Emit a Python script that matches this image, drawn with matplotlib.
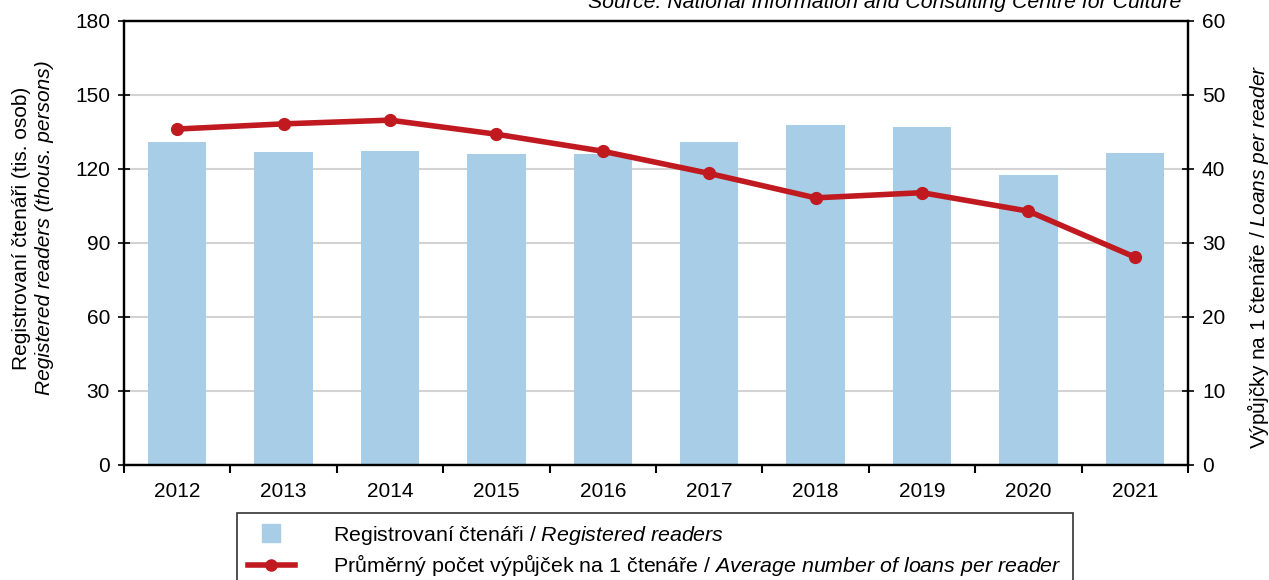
import matplotlib
matplotlib.use("Agg")
import matplotlib.pyplot as plt
from matplotlib.lines import Line2D

plt.rcParams['font.family'] = ['Liberation Sans', 'DejaVu Sans']
plt.rcParams['mathtext.fontset'] = 'custom'
plt.rcParams['mathtext.it'] = 'Liberation Sans:italic'
plt.rcParams['mathtext.rm'] = 'Liberation Sans'

years = ['2012', '2013', '2014', '2015', '2016', '2017', '2018', '2019', '2020', '2021']
readers = [131.0, 126.9, 127.3, 126.2, 126.1, 130.9, 137.8, 137.2, 117.7, 126.5]
loans_per_reader = [45.4, 46.1, 46.6, 44.7, 42.4, 39.4, 36.1, 36.8, 34.3, 28.1]

bar_color = '#A7CDE7'
line_color = '#C0191F'
fs = 15

fig = plt.figure(figsize=(12.69, 5.80), dpi=100)
ax = fig.add_axes([124 / 1269, 1 - 465 / 580, (1188 - 124) / 1269, (465 - 21) / 580])
ax2 = ax.twinx()

x = list(range(len(years)))
ax.bar(x, readers, width=0.55, color=bar_color, zorder=2)
ax.set_xlim(-0.5, len(years) - 0.5)
ax.set_ylim(0, 180)
ax.set_yticks(range(0, 181, 30))
ax.yaxis.grid(True, color='#D3D3D3', linewidth=1.5, zorder=0)
ax.set_axisbelow(True)

ax.set_xticks(x)
ax.set_xticklabels(years, fontsize=fs)
ax.set_xticks([i - 0.5 for i in range(len(years) + 1)], minor=True)
ax.tick_params(axis='x', which='major', length=0, pad=12)
ax.tick_params(axis='x', which='minor', length=6, width=1.5, direction='out')
ax.tick_params(axis='y', labelsize=fs, length=8, width=1.2, direction='inout', pad=6)

ax2.plot(x, loans_per_reader, color=line_color, linewidth=4.0, marker='o',
         markersize=8.5, zorder=5)
ax2.set_ylim(0, 60)
ax2.set_yticks(range(0, 61, 10))
ax2.tick_params(axis='y', labelsize=fs, length=8, width=1.2, direction='inout', pad=6)

for a in (ax, ax2):
    for s in a.spines.values():
        s.set_linewidth(1.6)
        s.set_color('black')

fig.text(22 / 1269, 1 - 228 / 580, 'Registrovaní čtenáři (tis. osob)', rotation=90,
         ha='center', va='center', fontsize=fs)
fig.text(45 / 1269, 1 - 228 / 580, 'Registered readers (thous. persons)', rotation=90,
         ha='center', va='center', fontsize=fs, style='italic')
fig.text(1258 / 1269, 1 - 257 / 580,
         r'Výpůjčky na 1 čtenáře / $\it{Loans\ per\ reader}$', rotation=90,
         ha='center', va='center', fontsize=fs)

fig.text(1181 / 1269, 1 - 8 / 580,
         'Source: National Information and Consulting Centre for Culture',
         ha='right', va='baseline', fontsize=15.3, style='italic')

handles = [
    Line2D([], [], color=bar_color, linestyle='none', marker='s', markersize=13),
    Line2D([], [], color=line_color, linewidth=4, marker='o', markersize=8),
]
labels = [
    r'Registrovaní čtenáři / $\it{Registered\ readers}$',
    r'Průměrný počet výpůjček na 1 čtenáře / $\it{Average\ number\ of\ loans\ per\ reader}$',
]
leg = fig.legend(handles, labels, loc='upper left',
                 bbox_to_anchor=(237 / 1269, 1 - 513 / 580),
                 prop={'size': 15.4}, frameon=True, fancybox=False, edgecolor='black',
                 handlelength=2.2, handletextpad=1.8, borderpad=0.5,
                 labelspacing=0.25, borderaxespad=0)
leg.get_frame().set_linewidth(1.2)

fig.savefig('out.png', dpi=100)
